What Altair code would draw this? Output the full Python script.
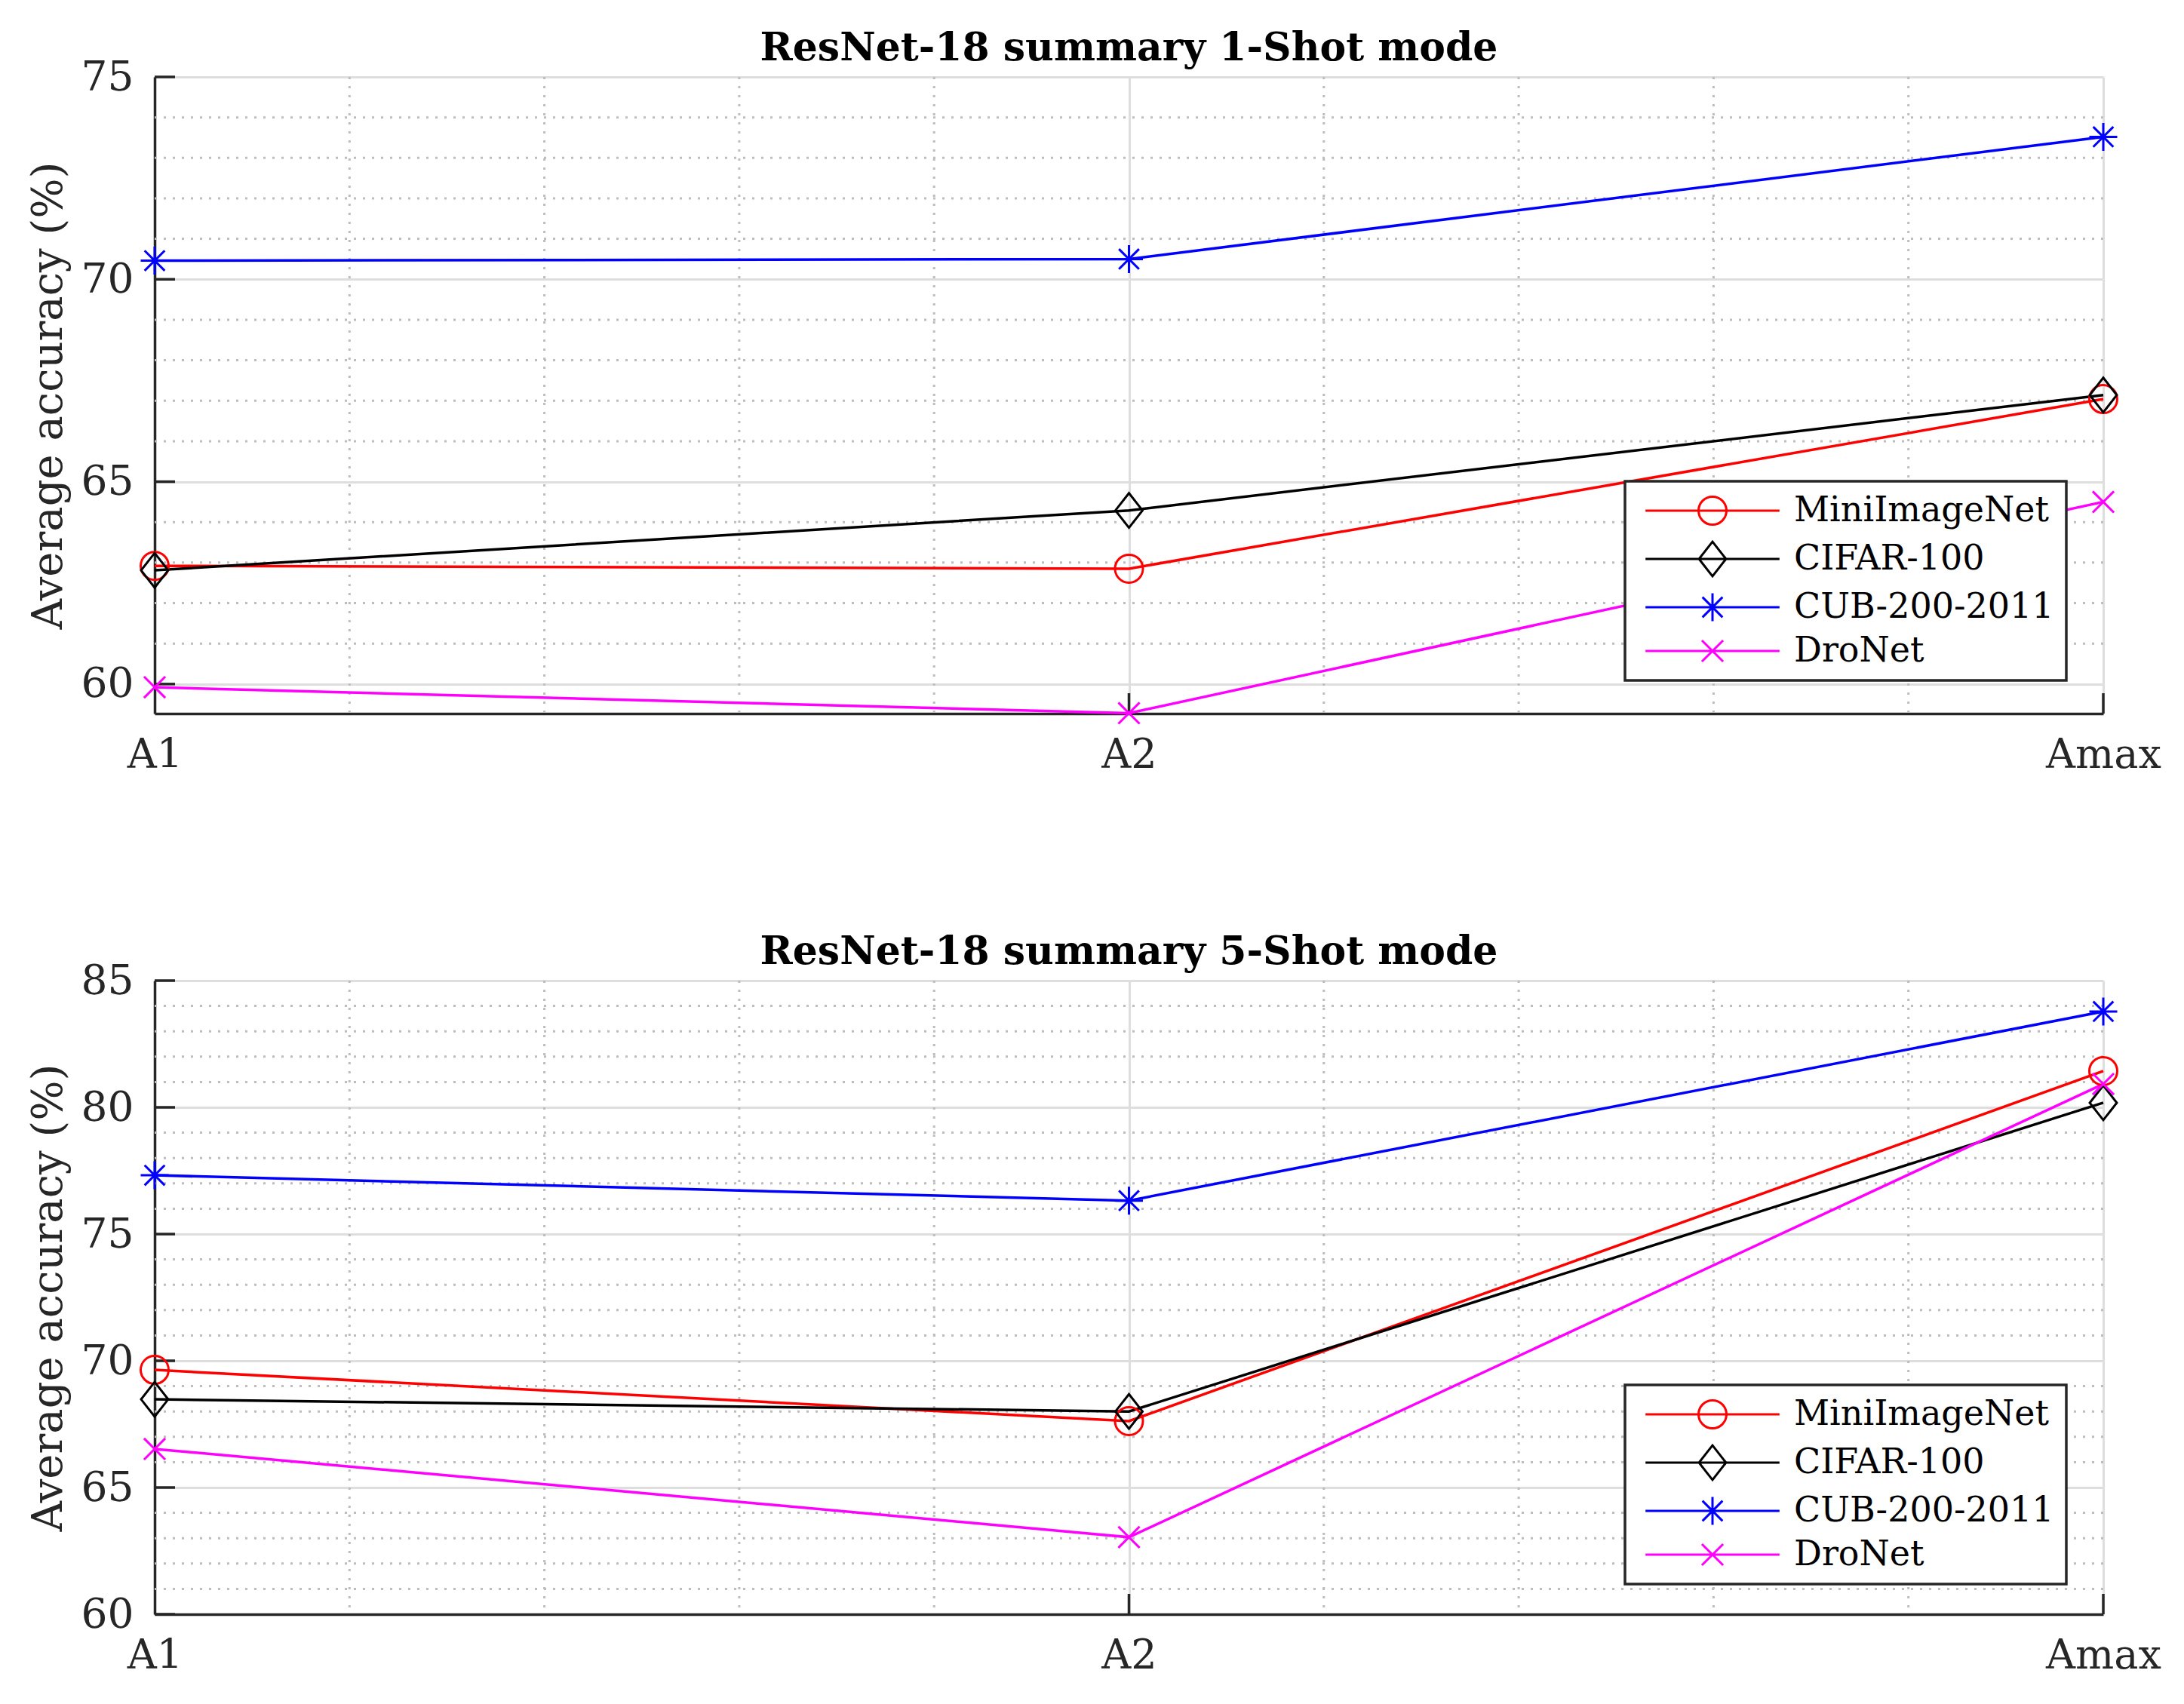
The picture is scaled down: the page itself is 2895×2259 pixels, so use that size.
import json
import altair as alt
import pandas as pd

# ---------------- data ----------------
series = ["MiniImageNet", "CIFAR-100", "CUB-200-2011", "DroNet"]
colors = ["#ff0000", "#000000", "#0000ff", "#ff00ff"]
x_labels = ["A1", "A2", "Amax"]
x_pos = [0, 1, 2]

one_shot_mini = [62.92, 62.85, 67.04]
one_shot_cifar = [62.81, 64.29, 67.14]
one_shot_cub = [70.46, 70.50, 73.52]
one_shot_dronet = [59.92, 59.28, 64.50]

five_shot_mini = [69.64, 67.62, 81.43]
five_shot_cifar = [68.48, 68.00, 80.18]
five_shot_cub = [77.32, 76.32, 83.78]
five_shot_dronet = [66.52, 63.04, 80.92]

top_y_domain = [59.27, 75]
top_y_ticks = [60, 65, 70, 75]
top_y_minor = [61, 62, 63, 64, 66, 67, 68, 69, 71, 72, 73, 74]

bot_y_domain = [60, 85]
bot_y_ticks = [60, 65, 70, 75, 80, 85]
bot_y_minor = [61, 62, 63, 64, 66, 67, 68, 69, 71, 72, 73, 74,
               76, 77, 78, 79, 81, 82, 83, 84]

x_minor = [0.2, 0.4, 0.6, 0.8, 1.2, 1.4, 1.6, 1.8]
x_inner_ticks = [1, 2]

# ---------------- style ----------------
FONT = "DejaVu Serif"
W = 2583
H1 = 844
H2 = 840
MSIZE = 1369  # marker bounding size (37 px)
TXT = "#262626"

marker_paths = [
    "M-1,0A1,1 0 1,0 1,0A1,1 0 1,0 -1,0Z",
    "M0,-1.24L0.97,0L0,1.24L-0.97,0Z",
    "M0,-1L0,1M-1,0L1,0M-0.72,-0.72L0.72,0.72M-0.72,0.72L0.72,-0.72",
    "M-0.76,-0.76L0.76,0.76M-0.76,0.76L0.76,-0.76",
]
LINE = "M-4.8,0L4.8,0"
legend_paths = [LINE + p for p in marker_paths]

label_expr = json.dumps(x_labels) + "[round(datum.value)]"


def make_df(vals):
    rows = []
    for s, v in zip(series, vals):
        for xp, a in zip(x_pos, v):
            rows.append({"series": s, "x": xp, "acc": a})
    return pd.DataFrame(rows)


def panel(vals, title, ydom, yticks, yminor, H):
    df = make_df(vals)
    xs = alt.Scale(domain=[0, 2], nice=False, zero=False)
    ys = alt.Scale(domain=ydom, nice=False, zero=False)
    stroke = alt.Stroke("series:N", scale=alt.Scale(domain=series, range=colors), legend=None)

    x_axis = alt.Axis(values=x_pos, labelExpr=label_expr, title=None, grid=True,
                      gridColor="#dedede", gridWidth=3, ticks=False, labelPadding=28,
                      labelFlush=False, labelOverlap=False, domainColor=TXT, domainWidth=3.5,
                      labelFont=FONT, labelFontSize=54, labelColor=TXT)
    y_axis = alt.Axis(values=yticks, title="Average accuracy (%)", grid=True,
                      gridColor="#dedede", gridWidth=3, ticks=False, labelPadding=28,
                      labelFlush=False, labelOverlap=False, domainColor=TXT, domainWidth=3.5,
                      labelFont=FONT, labelFontSize=55, labelColor=TXT,
                      titleFont=FONT, titleFontSize=56, titleFontWeight="normal",
                      titleColor=TXT, titlePadding=14)

    X = lambda f: alt.X(f, scale=xs, axis=x_axis)
    Y = lambda f: alt.Y(f, scale=ys, axis=y_axis)

    mx = alt.Chart(pd.DataFrame({"v": x_minor})).mark_rule(
        color="#bdbdbd", strokeWidth=3, strokeDash=[3, 9]
    ).encode(x=X("v:Q"))
    my = alt.Chart(pd.DataFrame({"v": yminor})).mark_rule(
        color="#bdbdbd", strokeWidth=3, strokeDash=[3, 9]
    ).encode(y=Y("v:Q"))

    yt = alt.Chart(pd.DataFrame({"v": yticks})).mark_rule(color=TXT, strokeWidth=3.5).encode(
        y=Y("v:Q"), x=alt.value(0), x2=alt.value(27))
    xt = alt.Chart(pd.DataFrame({"v": x_inner_ticks})).mark_rule(color=TXT, strokeWidth=3.5).encode(
        x=X("v:Q"), y=alt.value(H), y2=alt.value(H - 27))

    base = alt.Chart(df)
    lines = base.mark_line(strokeWidth=3.5).encode(
        x=X("x:Q"), y=Y("acc:Q"), stroke=stroke, detail="series:N",
    )
    pts = []
    for s, shp in zip(series, marker_paths):
        pts.append(
            base.transform_filter(alt.datum.series == s)
            .mark_point(filled=False, size=MSIZE, strokeWidth=3, opacity=1, shape=shp)
            .encode(x=X("x:Q"), y=Y("acc:Q"), stroke=stroke)
        )

    leg = alt.Legend(title=None, orient="none", legendX=1949, legendY=536,
                     labelFont=FONT, labelFontSize=46, labelColor="#000000", labelLimit=2000,
                     symbolSize=MSIZE, symbolStrokeWidth=3, symbolOffset=77,
                     labelOffset=85, padding=16, rowPadding=10,
                     fillColor="#ffffff", strokeColor="#262626")
    legend_layer = base.mark_point(filled=False, size=MSIZE, strokeWidth=3, opacity=1).encode(
        x=X("x:Q"), y=Y("acc:Q"),
        color=alt.Color("series:N", scale=alt.Scale(domain=series, range=colors), legend=leg),
        shape=alt.Shape("series:N", scale=alt.Scale(domain=series, range=legend_paths), legend=leg),
    ).transform_filter("false")

    return alt.layer(mx, my, yt, xt, lines, *pts, legend_layer).resolve_scale(
        color="independent", shape="independent"
    ).resolve_legend(
        color="independent", shape="independent"
    ).properties(
        width=W, height=H,
        title=alt.TitleParams(title, font=FONT, fontSize=52, fontWeight="bold",
                              color="#000000", anchor="middle", frame="group", offset=-16),
    )


top = panel([one_shot_mini, one_shot_cifar, one_shot_cub, one_shot_dronet],
            "ResNet-18 summary 1-Shot mode", top_y_domain, top_y_ticks, top_y_minor, H1)
bottom = panel([five_shot_mini, five_shot_cifar, five_shot_cub, five_shot_dronet],
               "ResNet-18 summary 5-Shot mode", bot_y_domain, bot_y_ticks, bot_y_minor, H2)

chart = alt.vconcat(top, bottom, spacing=208).properties(
    padding={"left": 28, "top": 30, "right": 5, "bottom": 5},
    background="#ffffff",
).configure_view(stroke=None).configure_legend(strokeWidth=3.5)

chart.save("out.html", embed_options={"renderer": "svg", "actions": False})
